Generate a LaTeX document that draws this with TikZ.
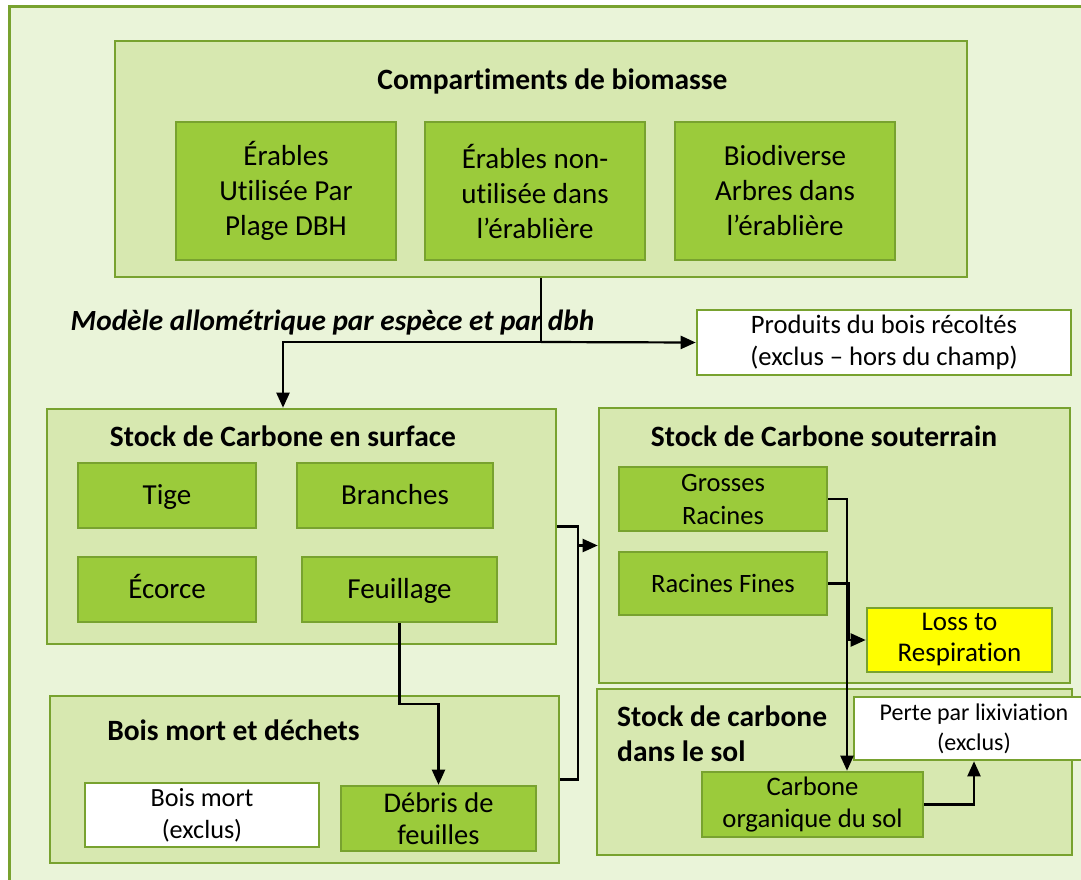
\documentclass[tikz,border=0pt]{standalone}
\usepackage{fontspec}
\setmainfont{Carlito}[Ligatures=NoCommon]
\usetikzlibrary{arrows.meta}
\definecolor{bgc}{HTML}{EAF4D9}
\definecolor{midc}{HTML}{D7E8B0}
\definecolor{innc}{HTML}{9BCB3B}
\definecolor{bord}{HTML}{78A22F}
\definecolor{yelc}{HTML}{FFFF00}
\newcommand{\fs}[2]{\fontsize{#1}{#2}\selectfont}
\tikzset{
  bx/.style={draw=bord, line width=2.6pt, inner sep=0pt, align=center, anchor=center},
  grp/.style={bx, fill=midc},
  cell/.style={bx, fill=innc, font=\fs{29}{35}},
  one/.style={text height=18.7pt, text depth=0pt},
  wcell/.style={bx, fill=white},
  ttl/.style={font=\fs{29.5}{35}\bfseries, inner sep=0pt},
  arr/.style={draw=black, line width=2.2pt, -{Triangle[length=15pt,width=13pt]}},
  ln/.style={draw=black, line width=2.2pt},
}
\begin{document}
\begin{tikzpicture}[x=1pt,y=-1pt]
\useasboundingbox (0,0) rectangle (1081,880);
\fill[white] (0,0) rectangle (1081,880);
\draw[draw=bord, line width=3pt, fill=bgc] (9,7) rectangle (1110,910);

% top group
\node[grp, minimum width=852pt, minimum height=236pt] (top) at (541,159) {};
\node[ttl, anchor=base] (toptitle) at (552.5,90) {Compartiments de biomasse};
\node[cell, minimum width=220pt, minimum height=138pt] (e1) at (286,191) {Érables\\Utilisée Par\\Plage DBH};
\node[cell, minimum width=220pt, minimum height=138pt] (e2) at (535,191) {Érables non-\\utilisée dans\\l’érablière};
\node[cell, minimum width=220pt, minimum height=138pt] (e3) at (785,191) {Biodiverse\\Arbres dans\\l’érablière};

\node[font=\fs{29.3}{35}\bfseries\itshape, inner sep=0pt, anchor=base] (model) at (332.5,330) {Modèle allométrique par espèce et par dbh};

\node[wcell, font=\fs{26.6}{32}, minimum width=374pt, minimum height=65pt] (prod) at (884,342.5) {Produits du bois récoltés\\(exclus – hors du champ)};

% surface
\node[grp, minimum width=509pt, minimum height=235pt] (surf) at (301.5,526.5) {};
\node[ttl, anchor=base] (surftitle) at (283,446) {Stock de Carbone en surface};
\node[cell, one, minimum width=178pt, minimum height=65pt] (tige) at (167,495.5) {Tige};
\node[cell, one, minimum width=196pt, minimum height=65pt] (branches) at (395,495.5) {Branches};
\node[cell, one, minimum width=178pt, minimum height=65pt] (ecorce) at (167,589.5) {Écorce};
\node[cell, one, minimum width=195pt, minimum height=65pt] (feuil) at (399.5,589.5) {Feuillage};

% souterrain
\node[grp, minimum width=471pt, minimum height=275pt] (sout) at (834.5,545.5) {};
\node[ttl, anchor=base] (souttitle) at (824,446) {Stock de Carbone souterrain};
\node[cell, font=\fs{26.5}{33}, minimum width=208pt, minimum height=64pt] (gros) at (723,499) {Grosses\\Racines};
\node[cell, one, font=\fs{26.5}{33}, text height=17pt, minimum width=208pt, minimum height=63pt] (fines) at (723,583.5) {Racines Fines};
\node[bx, fill=yelc, font=\fs{27}{31}, minimum width=185pt, minimum height=64pt] (loss) at (959.5,640) {Loss to\\Respiration};

% bois mort
\node[grp, minimum width=509pt, minimum height=167pt] (bois) at (304.5,779.5) {};
\node[ttl, anchor=base] (boistitle) at (233.5,740) {Bois mort et déchets};
\node[wcell, font=\fs{26.2}{32}, minimum width=234pt, minimum height=64pt] (bmort) at (202,815) {Bois mort\\(exclus)};
\node[cell, font=\fs{28.5}{32}, minimum width=195pt, minimum height=65pt] (debris) at (438.5,818.5) {Débris de\\feuilles};

% sol
\node[grp, minimum width=475pt, minimum height=166pt] (sol) at (834.5,772) {};
\node[ttl, align=left, anchor=west] (soltitle) at (617,734) {Stock de carbone\\dans le sol};
\node[wcell, font=\fs{24}{30}, minimum width=240pt, minimum height=63pt] (perte) at (974,728.5) {Perte par lixiviation\\(exclus)};
\node[cell, font=\fs{26.7}{32}, minimum width=221pt, minimum height=65pt] (carbone) at (812.5,804.5) {Carbone\\organique du sol};

% connectors
\coordinate (j1) at (541,342);
\coordinate (j2) at (283,342);
\coordinate (jx) at (578,0);
\coordinate (jy) at (0,704);
\coordinate (gx) at (847,0);
\coordinate (fx) at (849,0);
\coordinate (px) at (974,0);

\draw[ln] (top.south -| j1) -- (j1);
\draw[arr] (j1) -- (j2) -- (j2 |- surf.north);
\draw[arr] (j1) -- (prod.west);
\draw[arr] (surf.east) -- (surf.east -| jx) -- (jx |- sout.west) -- (sout.west);
\draw[ln] (bois.east) -- (bois.east -| jx) -- (jx |- sout.west);
\draw[arr] (feuil.south) -- (feuil.south |- jy) -| (debris.north);
\draw[arr] (gros.east) -| (gx |- carbone.north);
\draw[arr] (fines.east) -- (fines.east -| fx) |- (loss.west);
\draw[arr] (carbone.east) -| (px |- perte.south);
\end{tikzpicture}
\end{document}
